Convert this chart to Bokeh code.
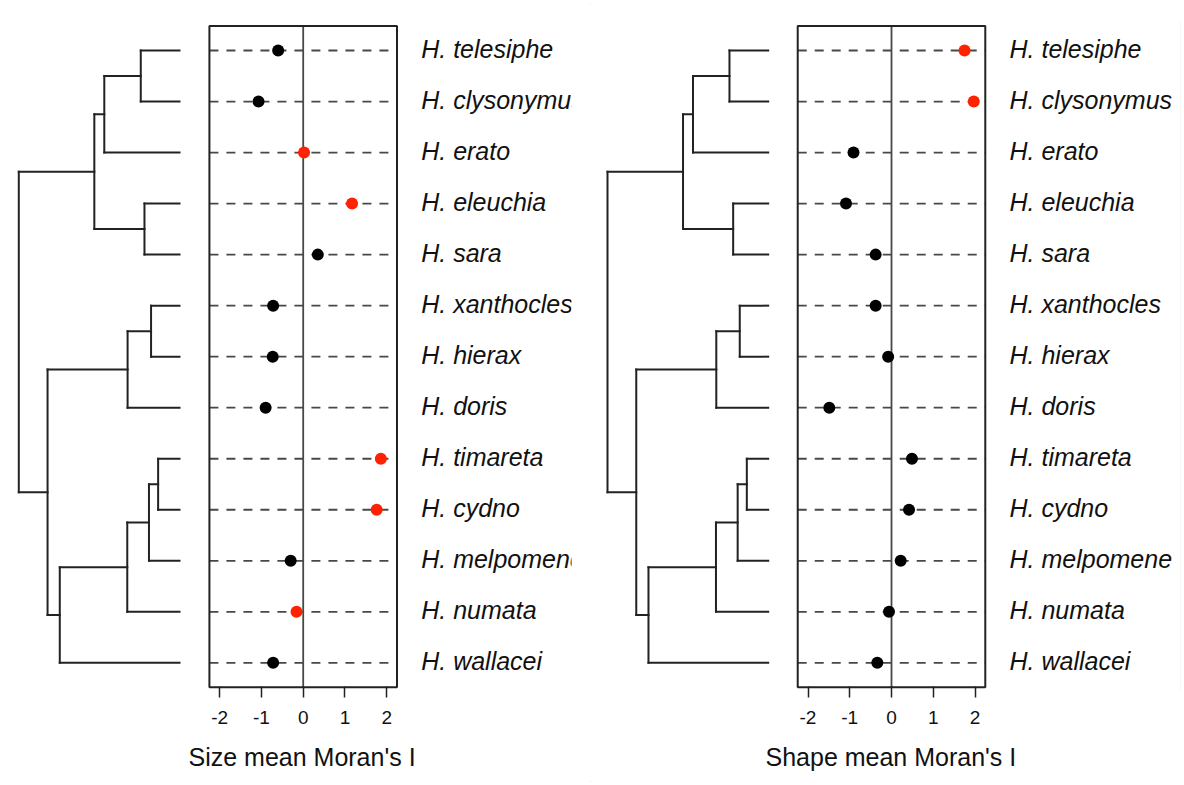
from bokeh.plotting import figure
from bokeh.models import Range1d, LinearAxis, FixedTicker, ColumnDataSource, Title
from bokeh.layouts import row
from bokeh.core.properties import value
from bokeh.embed import file_html
from bokeh.resources import INLINE

# ---- data -------------------------------------------------------------
species = ["H. telesiphe", "H. clysonymus", "H. erato", "H. eleuchia", "H. sara",
           "H. xanthocles", "H. hierax", "H. doris", "H. timareta", "H. cydno",
           "H. melpomene", "H. numata", "H. wallacei"]

size_moran = [-0.60, -1.07, 0.02, 1.17, 0.35, -0.72, -0.73, -0.90, 1.86, 1.76, -0.30, -0.16, -0.72]
size_signif = [False, False, True, True, False, False, False, False, True, True, False, True, False]

shape_moran = [1.75, 1.97, -0.91, -1.09, -0.38, -0.38, -0.08, -1.49, 0.49, 0.42, 0.22, -0.06, -0.34]
shape_signif = [True, True, False, False, False, False, False, False, False, False, False, False, False]

tick_values = [-2, -1, 0, 1, 2]
tick_labels = ["-2", "-1", "0", "1", "2"]

# phylogeny: (node depth from root, children); tips are row indices, tip depth = 1
tree = (0.0, [(0.470, [(0.532, [(0.759, [0, 1]), 2]), (0.782, [3, 4])]),
              (0.179, [(0.677, [(0.823, [5, 6]), 7]),
                       (0.255, [(0.675, [(0.810, [(0.867, [8, 9]), 10]), 11]), 12])])])

XLIM = (-2.08, 2.08)

# ---- layout constants (pixels) ------------------------------------------
HEIGHT = 785
ROW0_PX, ROW_STEP = 50.0, 51.03
FRAME_TOP, FRAME_BOTTOM = 20, 690
UNIT_PX = 41.75        # pixels per Moran's I unit
TREE_PX = 160.7        # pixels from root to tips
LABEL_GAP_PX = 118.0   # distance from zero line to species labels
FONT = "Liberation Sans"
RED = "#ff2200"
LINE = "#222222"
GREY = "#484848"


def tree_segments(node, out):
    depth, children = node
    ys = []
    for ch in children:
        if isinstance(ch, int):
            cy, cd = float(ch), 1.0
        else:
            cy, cd = tree_segments(ch, out)
        out.append((depth, cd, cy, cy))
        ys.append(cy)
    out.append((depth, depth, ys[0], ys[-1]))
    return (ys[0] + ys[-1]) / 2.0, depth


segs = []
tree_segments(tree, segs)
tree_src = dict(x0=[s[0] for s in segs], x1=[s[1] for s in segs],
                y0=[s[2] for s in segs], y1=[s[3] for s in segs])


def pad(lo, hi, f=0.04):
    d = (hi - lo) * f
    return lo - d, hi + d


def panel(values, signif, xlabel, xlabel_left, offset, width, frame_l, frame_r, zero_px, root_px):
    n = len(species)
    rows = list(range(n))
    y_range = Range1d((FRAME_BOTTOM - ROW0_PX) / ROW_STEP, (FRAME_TOP - ROW0_PX) / ROW_STEP)
    x_range = Range1d((frame_l - zero_px) / UNIT_PX, (frame_r - zero_px) / UNIT_PX)
    p = figure(width=width, height=HEIGHT, x_range=x_range, y_range=y_range,
               x_axis_type=None, y_axis_type=None, toolbar_location=None, tools="",
               output_backend="svg",
               min_border_left=frame_l - offset, min_border_right=offset + width - frame_r,
               min_border_top=FRAME_TOP, min_border_bottom=HEIGHT - FRAME_BOTTOM)
    p.extra_x_ranges = {"tree": Range1d((frame_l - root_px) / TREE_PX, (frame_r - root_px) / TREE_PX)}
    p.outline_line_color = None
    p.background_fill_color = "white"
    p.border_fill_color = "white"

    # phylogeny
    p.segment(x0="x0", x1="x1", y0="y0", y1="y1", source=ColumnDataSource(tree_src),
              x_range_name="tree", line_color=LINE, line_width=2, line_cap="square")

    bx0, bx1 = pad(*XLIM)
    by0, by1 = pad(0, n - 1)

    # dashed guide lines, zero line, frame box
    p.segment(x0=[bx0] * n, x1=[bx1] * n, y0=rows, y1=rows,
              line_color=GREY, line_width=1.8, line_dash="9 8")
    p.segment(x0=[0], x1=[0], y0=[by0], y1=[by1], line_color=GREY, line_width=1.8)
    p.quad(left=[bx0], right=[bx1], bottom=[by1], top=[by0],
           fill_color=None, line_color=LINE, line_width=2)

    colors = [RED if s else "black" for s in signif]
    p.scatter(x=values, y=rows, size=12, fill_color=colors, line_color=None, marker="circle")

    # species names
    p.text(x=[LABEL_GAP_PX / UNIT_PX] * n, y=rows, text=species,
           text_font=value(FONT), text_font_style="italic", text_font_size="25px",
           text_baseline="middle", text_align="left", text_color="#111111", y_offset=-2)

    ax = LinearAxis(ticker=FixedTicker(ticks=tick_values),
                    major_label_overrides={v: t for v, t in zip(tick_values, tick_labels)},
                    bounds=(tick_values[0], tick_values[-1]),
                    axis_line_color=None, major_tick_line_color=LINE, major_tick_line_width=1.5,
                    major_tick_in=4, major_tick_out=7, minor_tick_line_color=None,
                    major_label_text_font=FONT, major_label_text_font_size="19px",
                    major_label_text_color="#111111", major_label_standoff=13)
    p.add_layout(ax, "below")

    # axis title under the Moran's I scale
    p.add_layout(Title(text=xlabel, align="left", offset=xlabel_left - frame_l,
                       text_font=FONT, text_font_size="25px", text_font_style="normal",
                       text_color="#111111", standoff=28), "below")
    return p


p1 = panel(size_moran, size_signif, "Size mean Moran's I", 188, 0, 590, 8, 571, 302.7, 18.3)
p2 = panel(shape_moran, shape_signif, "Shape mean Moran's I", 765, 590, 594, 598, 1180, 891.0, 607.0)

layout = row(p1, p2, styles={"outline": "1px solid #dddddd", "outline-offset": "-4px"})

open("out.html", "w").write(file_html(layout, INLINE))
